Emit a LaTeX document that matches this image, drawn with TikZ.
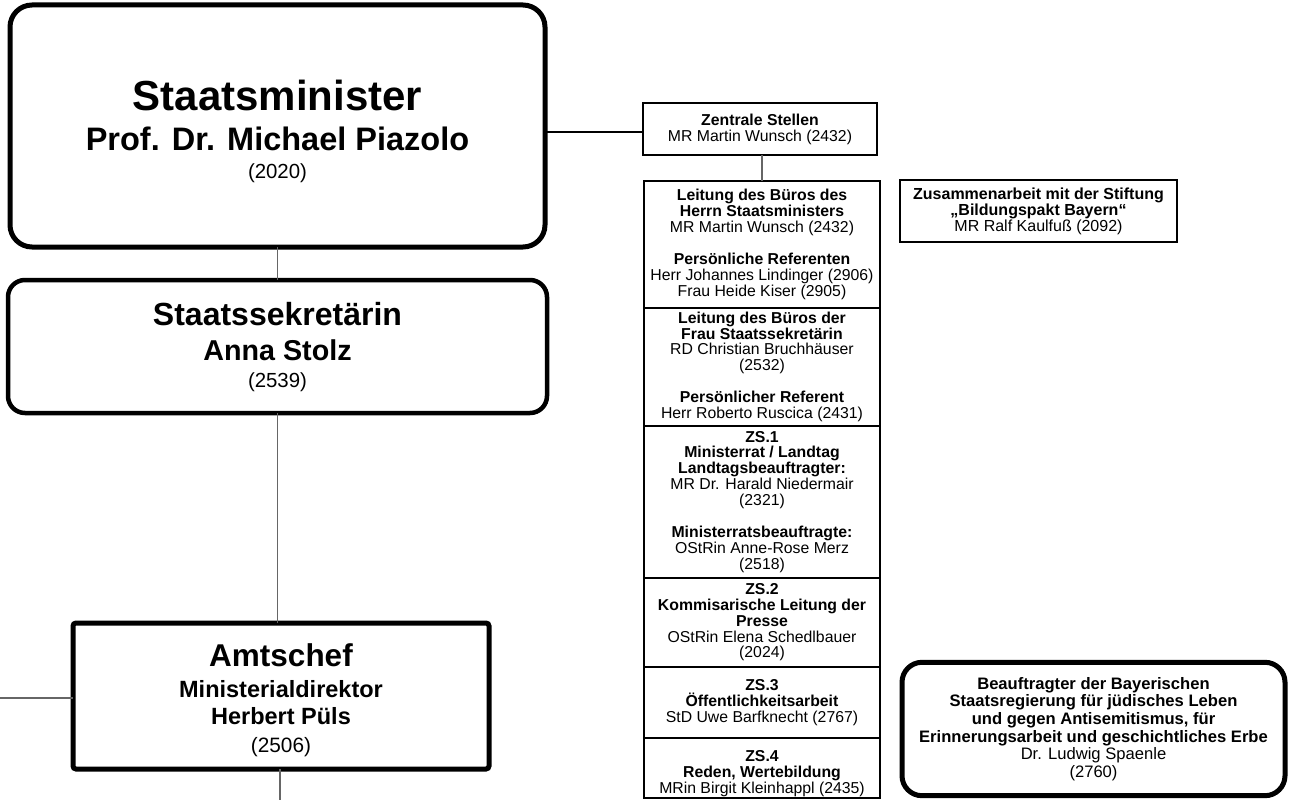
\documentclass[tikz,border=0pt]{standalone}
\usepackage{fontspec}
\setmainfont{Liberation Sans}
\newcommand\colfont{\fontsize{15.8}{15.9}\selectfont}
\begin{document}
\begin{tikzpicture}[x=1pt,y=-1pt,
  bigbox/.style={draw=black, fill=white, inner sep=0pt, outer sep=0pt},
  colbox/.style={draw=black, line width=2pt, fill=white, inner sep=0pt, outer sep=0pt,
    align=center, font=\colfont, minimum width=236pt},
  smallbox/.style={draw=black, line width=2pt, fill=white, inner sep=0pt, outer sep=0pt,
    align=center, font=\colfont},
  thinline/.style={draw=black!60, line width=1.2pt},
  thickline/.style={draw=black, line width=2.6pt},
  ttl/.style={anchor=base, inner sep=0pt, font=\bfseries},
]
\useasboundingbox (0,0) rectangle (1295,800);

% --- left hierarchy boxes
\node[bigbox, line width=5pt, rounded corners=22pt, minimum width=535pt, minimum height=242pt] (sm) at (277.5,126) {};
\node[bigbox, line width=4.5pt, rounded corners=17pt, minimum width=539pt, minimum height=133pt] (ss) at (277.5,346.5) {};
\node[bigbox, line width=5pt, rounded corners=3pt, minimum width=416pt, minimum height=146pt] (am) at (281,696) {};

% texts Staatsminister
\node[ttl, font=\bfseries\fontsize{42}{42}\selectfont] (smA) at (277.5,110.5) {Staatsminister};
\node[ttl, font=\bfseries\fontsize{32.5}{32.5}\selectfont] (smB) at (277.5,150) {Prof. Dr. Michael Piazolo};
\node[ttl, font=\fontsize{20.4}{20.4}\selectfont] (smC) at (277.5,178) {(2020)};
% texts Staatssekretärin
\node[ttl, font=\bfseries\fontsize{32}{32}\selectfont] (ssA) at (277.5,325.5) {Staatssekretärin};
\node[ttl, font=\bfseries\fontsize{28.7}{28.7}\selectfont] (ssB) at (277.5,360.5) {Anna Stolz};
\node[ttl, font=\fontsize{20.4}{20.4}\selectfont] (ssC) at (277.5,387) {(2539)};
% texts Amtschef
\node[ttl, font=\bfseries\fontsize{31.5}{31.5}\selectfont] (amA) at (281,666) {Amtschef};
\node[ttl, font=\bfseries\fontsize{23.5}{23.5}\selectfont] (amB) at (281,697) {Ministerialdirektor};
\node[ttl, font=\bfseries\fontsize{23.5}{23.5}\selectfont] (amC) at (281,724) {Herbert Püls};
\node[ttl, font=\fontsize{20.8}{20.8}\selectfont] (amD) at (281,752) {(2506)};

% --- right column
\node[smallbox, minimum width=234pt, minimum height=52pt] (zen) at (760,129)
  {\textbf{Zentrale Stellen}\\MR Martin Wunsch (2432)};

\node[colbox, minimum height=126.5pt] (s1) at (762,244.25)
  {\textbf{Leitung des Büros des}\\\textbf{Herrn Staatsministers}\\MR Martin Wunsch (2432)\\[15.9pt]
   \textbf{Persönliche Referenten}\\Herr Johannes Lindinger (2906)\\Frau Heide Kiser (2905)};
\node[colbox, minimum height=118.5pt] (s2) at (762,366.75)
  {\textbf{Leitung des Büros der}\\\textbf{Frau Staatssekretärin}\\RD Christian Bruchhäuser\\(2532)\\[15.9pt]
   \textbf{Persönlicher Referent}\\Herr Roberto Ruscica (2431)};
\node[colbox, minimum height=151.5pt] (s3) at (762,501.75)
  {\textbf{ZS.1}\\\textbf{Ministerrat / Landtag}\\\textbf{Landtagsbeauftragter:}\\MR Dr. Harald Niedermair\\(2321)\\[15.9pt]
   \textbf{Ministerratsbeauftragte:}\\OStRin Anne-Rose Merz\\(2518)};
\node[colbox, minimum height=89.5pt] (s4) at (762,622.25)
  {\textbf{ZS.2}\\\textbf{Kommisarische Leitung der}\\\textbf{Presse}\\OStRin Elena Schedlbauer\\(2024)};
\node[colbox, minimum height=71pt] (s5) at (762,702.5)
  {\textbf{ZS.3}\\\textbf{Öffentlichkeitsarbeit}\\StD Uwe Barfknecht (2767)};
\node[colbox, minimum height=60pt] (s6) at (762,768)
  {\rule{0pt}{21.5pt}\textbf{ZS.4}\\\textbf{Reden, Wertebildung}\\MRin Birgit Kleinhappl (2435)};

% --- far right boxes
\node[smallbox, minimum width=277pt, minimum height=62pt, font=\fontsize{16}{16}\selectfont] (stift) at (1038.5,211)
  {\textbf{Zusammenarbeit mit der Stiftung}\\\textbf{„Bildungspakt Bayern“}\\MR Ralf Kaulfuß (2092)};
\node[bigbox, line width=5pt, rounded corners=20pt, minimum width=383pt, minimum height=133.4pt,
      align=center, font=\fontsize{16.6}{17.6}\selectfont] (beauf) at (1093.5,729)
  {\textbf{Beauftragter der Bayerischen}\\\textbf{Staatsregierung für jüdisches Leben}\\
   \textbf{und gegen Antisemitismus, für}\\\textbf{Erinnerungsarbeit und geschichtliches Erbe}\\
   Dr. Ludwig Spaenle\\(2760)};

% --- connectors
\coordinate (jy) at (0,132);
\coordinate (leftend) at (0,698);
\coordinate (bottomend) at (280,800);
\draw[thickline] (sm.east |- jy) -- (zen.west |- jy);
\draw[thinline] (sm.south) -- (ss.north);
\draw[thinline] (ss.south) -- (ss.south |- am.north);
\draw[thinline] (am.south -| bottomend) -- (bottomend);
\draw[thinline] (leftend) -- (am.west |- leftend);
\draw[thinline] (s1.north |- zen.south) -- (s1.north);
\end{tikzpicture}
\end{document}
